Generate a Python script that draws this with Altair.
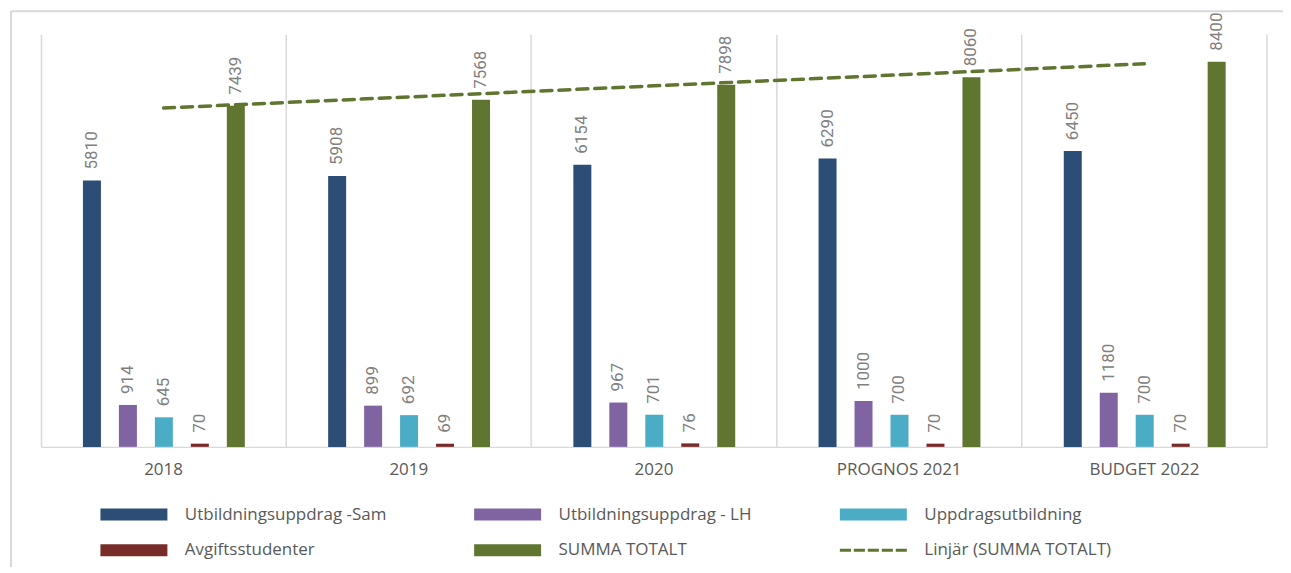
import altair as alt
import pandas as pd

categories = ["2018", "2019", "2020", "PROGNOS 2021", "BUDGET 2022"]
series = ["Utbildningsuppdrag -Sam", "Utbildningsuppdrag - LH", "Uppdragsutbildning",
          "Avgiftsstudenter", "SUMMA TOTALT"]
trend_name = "Linjär (SUMMA TOTALT)"

sam = [5810, 5908, 6154, 6290, 6450]
lh = [914, 899, 967, 1000, 1180]
uppdrag = [645, 692, 701, 700, 700]
avgift = [70, 69, 76, 70, 70]
summa = [7439, 7568, 7898, 8060, 8400]

colors = ["#2C4D75", "#8064A2", "#4BACC6", "#772C2A", "#5F7530", "#5F7530"]

values_by_series = [sam, lh, uppdrag, avgift, summa]
rows = []
for s, vals in zip(series, values_by_series):
    for i, (c, v) in enumerate(zip(categories, vals)):
        rows.append({"category": c, "series": s, "value": v, "idx": i})
df = pd.DataFrame(rows)
df_total = df[df["series"] == "SUMMA TOTALT"]

W, H = 1227, 413
GRID = "#D9D9D9"
TXT = "#595959"
NARROW = "Roboto"
MAIN = "Open Sans"

RECT = "M-1,-1H10.17V1H-1Z"
DASH = ("M-1,-0.25H0.85V0.25H-1Z M1.33,-0.25H3.18V0.25H1.33Z M3.66,-0.25H5.51V0.25H3.66Z "
        "M5.99,-0.25H7.84V0.25H5.99Z M8.32,-0.25H10.17V0.25H8.32Z")

x_scale = alt.Scale(domain=categories, paddingInner=0, paddingOuter=0)
x_enc = alt.X("category:N", sort=categories, scale=x_scale,
              axis=alt.Axis(title=None, labelAngle=0, labelFont=MAIN, labelFontSize=17,
                            labelColor=TXT, labelPadding=15, ticks=False,
                            domainColor=GRID, domainWidth=1.5, grid=True, gridColor=GRID,
                            gridWidth=1.5, bandPosition=0))
xo_enc = alt.XOffset("series:N", sort=series,
                     scale=alt.Scale(domain=series, range=[33, 213],
                                     paddingInner=0.5, paddingOuter=0.25))
y_enc = alt.Y("value:Q", scale=alt.Scale(domain=[0, 9000]), axis=None)

legend = alt.Legend(
    title=None, orient="none", legendX=57, legendY=472, columns=3, direction="horizontal",
    symbolSize=144,
    symbolType={"expr": "datum.value === '" + trend_name + "' ? '" + DASH + "' : '" + RECT + "'"},
    symbolStrokeWidth=0, symbolOpacity=1,
    labelFont=MAIN, labelFontSize=17, labelColor=TXT, labelOffset=70, labelLimit=500,
    columnPadding=85, rowPadding=18,
)

base = alt.Chart(df)
bars = base.mark_bar().encode(
    x=x_enc, xOffset=xo_enc, y=y_enc,
    color=alt.Color("series:N", scale=alt.Scale(domain=series + [trend_name], range=colors),
                    legend=legend),
)
labels = base.mark_text(angle=270, align="left", baseline="middle", dx=11, font=NARROW,
                        fontSize=17, color="#808080").encode(
    x=alt.X("category:N", sort=categories, scale=x_scale), xOffset=xo_enc, y=y_enc,
    text="value:Q")

cat_expr = "[" + ",".join("'" + c + "'" for c in categories) + "][round(datum.idx)]"
trend = alt.Chart(df_total).transform_regression("idx", "value").transform_calculate(
    category=cat_expr
).mark_line(color="#5F7530", strokeDash=[11, 7], strokeWidth=3.5, strokeCap="round").encode(
    x=alt.X("category:N", sort=categories, scale=x_scale), y=y_enc)

one = alt.Data(values=[{"k": 1}])
right_grid = alt.Chart(one).mark_rule(color=GRID, strokeWidth=1.5).encode(
    x=alt.value(W), y=alt.value(0), y2=alt.value(H))
frame_top = alt.Chart(one).mark_rule(color=GRID, strokeWidth=2).encode(
    x=alt.value(-30), x2=alt.value(1260), y=alt.value(-23))
frame_left = alt.Chart(one).mark_rule(color=GRID, strokeWidth=2).encode(
    x=alt.value(-30), y=alt.value(-23), y2=alt.value(545))

chart = alt.layer(frame_top, frame_left, right_grid, bars, labels, trend).properties(
    width=W, height=H,
    autosize=alt.AutoSizeParams(type="none"),
    padding={"left": 33, "top": 26, "right": 16, "bottom": 120},
).configure_view(stroke=None)

chart.save("out.html", embed_options={"renderer": "svg", "actions": False})
